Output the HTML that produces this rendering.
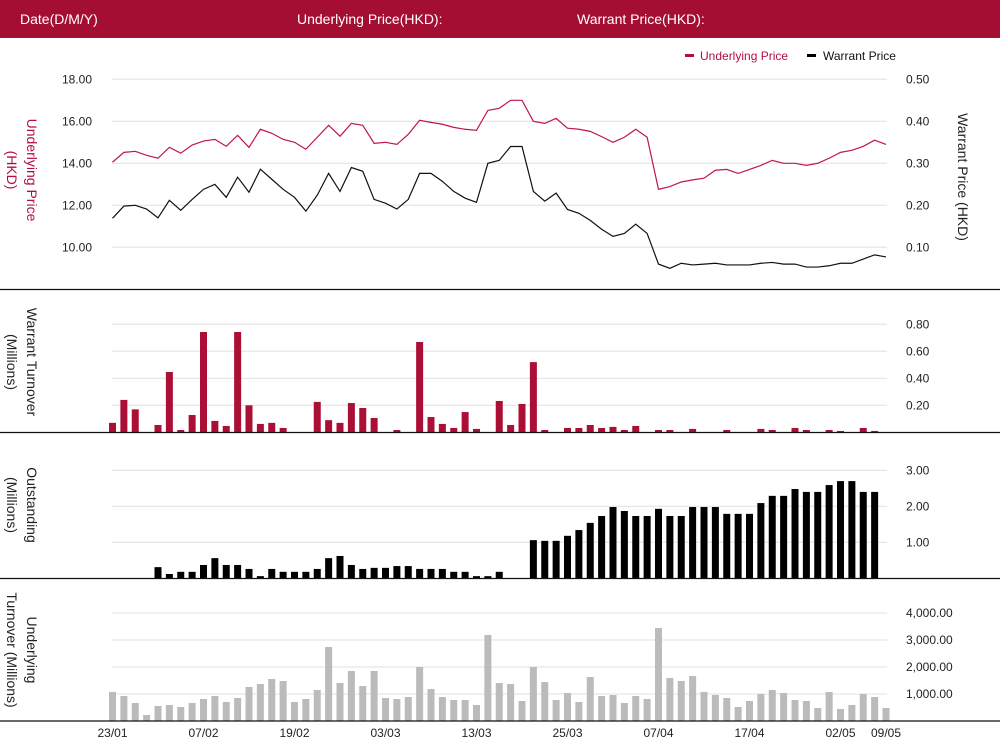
<!DOCTYPE html>
<html><head><meta charset="utf-8"><style>
body{margin:0;width:1000px;height:751px;overflow:hidden;background:#fff;font-family:"Liberation Sans",sans-serif}
#hdr{position:absolute;left:0;top:0;width:1000px;height:38px;background:#A50E33;color:#fff;font-size:14px}
#hdr span{position:absolute;top:11px}
svg{position:absolute;left:0;top:0}
</style></head><body>
<div id="hdr">
<span style="left:20px">Date(D/M/Y)</span>
<span style="left:297px">Underlying Price(HKD):</span>
<span style="left:577px">Warrant Price(HKD):</span>
</div>
<svg id="c" width="1000" height="751"></svg>
<script>
const dates=["23/01","07/02","19/02","03/03","13/03","25/03","07/04","17/04","02/05","09/05"];
const dateIdx=[0,8,16,24,32,40,48,56,64,68];
const underlyingPrice=[14.05,14.52,14.57,14.38,14.24,14.76,14.48,14.87,15.06,15.14,14.81,15.33,14.76,15.62,15.43,15.14,15.0,14.67,15.24,15.81,15.29,15.9,15.81,14.95,15.0,14.9,15.38,16.05,15.95,15.86,15.71,15.62,15.57,16.52,16.62,17.0,17.0,16.0,15.9,16.14,15.67,15.62,15.52,15.27,15.0,15.24,15.62,15.24,12.76,12.89,13.11,13.21,13.29,13.67,13.71,13.52,13.71,13.9,14.14,14.0,14.0,13.9,14.0,14.24,14.52,14.62,14.81,15.1,14.9];
const warrantPrice=[0.169,0.198,0.2,0.191,0.17,0.212,0.188,0.214,0.238,0.25,0.219,0.267,0.231,0.286,0.262,0.238,0.219,0.186,0.224,0.276,0.233,0.29,0.281,0.214,0.205,0.191,0.214,0.276,0.276,0.257,0.233,0.217,0.207,0.3,0.307,0.34,0.34,0.233,0.21,0.229,0.19,0.181,0.164,0.143,0.126,0.133,0.155,0.133,0.06,0.05,0.062,0.058,0.06,0.062,0.058,0.058,0.058,0.062,0.064,0.06,0.06,0.053,0.053,0.056,0.062,0.062,0.072,0.082,0.077];
const warrantTurnover=[0.07,0.24,0.17,0,0.054,0.447,0.017,0.128,0.743,0.084,0.047,0.743,0.2,0.062,0.07,0.032,0,0,0.225,0.09,0.07,0.217,0.18,0.106,0,0.017,0,0.669,0.113,0.062,0.032,0.15,0.025,0,0.232,0.054,0.21,0.52,0.017,0,0.032,0.032,0.054,0.032,0.04,0.017,0.047,0,0.017,0.017,0,0.025,0,0,0.017,0,0,0.025,0.017,0,0.032,0.017,0,0.017,0.01,0,0.032,0.01,0];
const outstanding=[0,0,0,0,0.31,0.12,0.18,0.18,0.37,0.56,0.37,0.37,0.26,0.06,0.26,0.18,0.18,0.18,0.26,0.56,0.62,0.37,0.26,0.29,0.29,0.34,0.34,0.26,0.26,0.26,0.18,0.18,0.06,0.06,0.18,0,0,1.06,1.04,1.04,1.18,1.34,1.54,1.73,1.98,1.87,1.73,1.73,1.93,1.73,1.73,1.98,1.98,1.98,1.79,1.79,1.79,2.09,2.29,2.29,2.48,2.40,2.40,2.59,2.70,2.70,2.40,2.40,0];
const underlyingTurnover=[1074,926,667,222,556,593,519,667,815,926,704,852,1259,1370,1556,1481,704,815,1148,2741,1407,1852,1296,1852,852,815,889,2000,1185,889,778,778,593,3185,1407,1370,741,2000,1444,778,1037,704,1630,926,963,667,926,815,3444,1593,1481,1667,1074,963,852,519,741,1000,1148,1037,778,741,481,1074,444,593,1000,889,481];
const priceTicks=["18.00","16.00","14.00","12.00","10.00"];const priceTickVals=[18,16,14,12,10];
const wpTicks=["0.50","0.40","0.30","0.20","0.10"];const wpTickVals=[0.5,0.4,0.3,0.2,0.1];
const wtTicks=["0.20","0.40","0.60","0.80"];const wtTickVals=[0.2,0.4,0.6,0.8];
const osTicks=["1.00","2.00","3.00"];const osTickVals=[1,2,3];
const utTicks=["1,000.00","2,000.00","3,000.00","4,000.00"];const utTickVals=[1000,2000,3000,4000];

const svg=document.getElementById('c');const NS='http://www.w3.org/2000/svg';
function mk(t,a,p){const e=document.createElementNS(NS,t);for(const k in a)e.setAttribute(k,a[k]);(p||svg).appendChild(e);return e;}
const x=i=>112.5+i*11.375;
const yP=v=>121.3-(v-16)*21;
const yW=v=>247.3-(v-0.1)*420;
const yWT=v=>432.3-v*135;
const yOS=v=>578.3-v*36;
const yUT=v=>721-v*0.027;
function grid(vals,labels,f,side,name){vals.forEach((v,k)=>{
 const l=mk('line',{x1:112,x2:887,y1:f(v),y2:f(v),stroke:'#e0e0e0','stroke-width':1});
 
 const t=mk('text',{x:side==='l'?92:906,y:f(v)+4,'font-size':12,fill:'#222','text-anchor':side==='l'?'end':'start'});
 t.textContent=labels[k];});}
grid(priceTickVals,priceTicks,yP,'l','price-axis');
wpTickVals.forEach((v,k)=>{const t=mk('text',{x:906,y:yW(v)+4,'font-size':12,fill:'#222'});t.textContent=wpTicks[k];
 });
grid(wtTickVals,wtTicks,yWT,'r','warrant-turnover-axis');
grid(osTickVals,osTicks,yOS,'r','outstanding-axis');
grid(utTickVals,utTicks,yUT,'r','underlying-turnover-axis');
function line(data,f,color,name){const p=mk('polyline',{points:data.map((v,i)=>x(i)+','+f(v)).join(' '),fill:'none',stroke:color,'stroke-width':1.2});
 }
line(underlyingPrice,yP,'#C0164A','underlying-price-line');
line(warrantPrice,yW,'#111','warrant-price-line');
function bars(data,f,base,color,name){data.forEach((v,i)=>{if(v<=0)return;
 const r=mk('rect',{x:x(i)-3.5,y:f(v),width:7,height:base-f(v),fill:color});
 });}
bars(warrantTurnover,yWT,432.3,'#AC0F36','warrant-turnover-bar');
bars(outstanding,yOS,578.3,'#000','outstanding-bar');
bars(underlyingTurnover,yUT,721,'#BBBBBB','underlying-turnover-bar');
[289.5,432.5,578.5,721].forEach(y=>{const l=mk('line',{x1:0,x2:1000,y1:y,y2:y,stroke:'#111','stroke-width':1.3});
 });
dateIdx.forEach((d,k)=>{const t=mk('text',{x:x(d),y:737,'font-size':12,fill:'#222','text-anchor':'middle'});t.textContent=dates[k];
 });
function vlabel(lines,cx,cy,color,name){const g=mk('g',{transform:`translate(${cx},${cy}) rotate(90)`});
 
 lines.forEach((s,k)=>{const t=mk('text',{x:0,y:k*20-(lines.length-1)*10+5,'font-size':14,fill:color,'text-anchor':'middle'},g);t.textContent=s;});}
vlabel(["Underlying Price","(HKD)"],22,170,'#B0103F','left-y-axis-title');
vlabel(["Warrant  Price (HKD)"],963,177,'#222','right-y-axis-title');
vlabel(["Warrant  Turnover","(Millions)"],22,362,'#222','warrant-turnover-title');
vlabel(["Outstanding","(Millions)"],22,505,'#222','outstanding-title');
vlabel(["Underlying","Turnover (Millions)"],22,650,'#222','underlying-turnover-title');
const lg=mk('g',{});
mk('rect',{x:685,y:54,width:9,height:3,fill:'#B0103F'},lg);
const t1=mk('text',{x:700,y:60,'font-size':12,fill:'#B0103F'},lg);t1.textContent='Underlying Price';

mk('rect',{x:807,y:54,width:9,height:3,fill:'#000'},lg);
const t2=mk('text',{x:823,y:60,'font-size':12,fill:'#111'},lg);t2.textContent='Warrant  Price';

</script>
</body></html>
